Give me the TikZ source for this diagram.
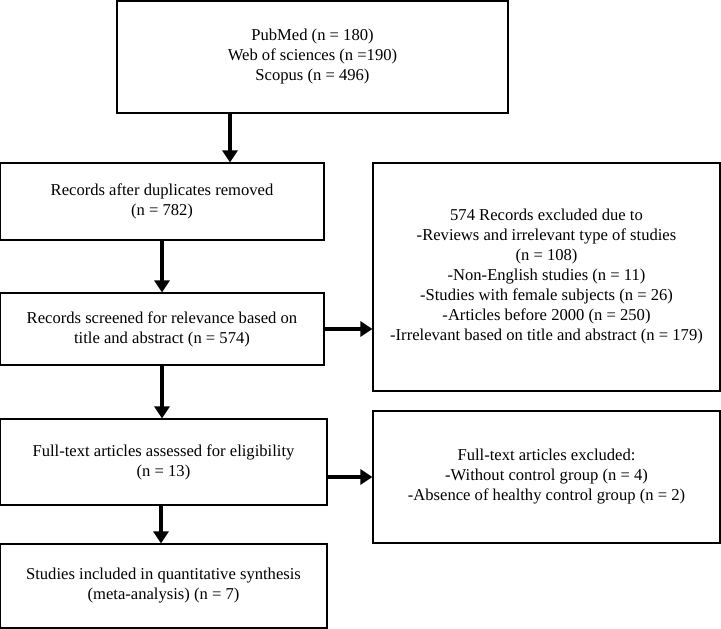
\documentclass[tikz,border=0pt]{standalone}
\usepackage{fontspec}
\setmainfont{Liberation Serif}
\usepackage{tikz}
\usetikzlibrary{arrows.meta}
\usetikzlibrary{calc}

\begin{document}
\begin{tikzpicture}[x=1pt, y=-1pt,
box/.style={draw, line width=1.2pt, align=center, inner sep=0pt, font=\fontsize{16.6}{20}\selectfont},
arr/.style={line width=3.8pt, -{Triangle[length=12pt,width=15pt]}}]
\useasboundingbox (0,0) rectangle (721,629);
\node[box, minimum width=391pt, minimum height=112pt] (src) at (312.5,57) {PubMed (n = 180)\\Web of sciences (n =190)\\Scopus (n = 496)};
\node[box, minimum width=324pt, minimum height=77pt] (dup) at (162,201.5) {Records after duplicates removed\\(n = 782)};
\node[box, minimum width=324pt, minimum height=72pt] (scr) at (162,329) {Records screened for relevance based on\\title and abstract (n = 574)};
\node[box, minimum width=347pt, minimum height=228pt] (exc) at (546.5,277) {574 Records excluded due to\\-Reviews and irrelevant type of studies\\(n = 108)\\-Non-English studies (n = 11)\\-Studies with female subjects (n = 26)\\-Articles before 2000 (n = 250)\\-Irrelevant based on title and abstract (n = 179)};
\node[box, minimum width=327pt, minimum height=86pt] (full) at (163.5,462) {Full-text articles assessed for eligibility\\(n = 13)};
\node[box, minimum width=347pt, minimum height=132pt] (fexc) at (546.5,477) {Full-text articles excluded:\\-Without control group (n = 4)\\-Absence of healthy control group (n = 2)};
\node[box, minimum width=327pt, minimum height=84pt] (inc) at (163.5,586) {Studies included in quantitative synthesis\\(meta-analysis) (n = 7)};
\draw[arr] ([xshift=-82.5pt]src.south) -- ([xshift=-82.5pt]src.south |- dup.north);
\draw[arr] (dup.south) -- (scr.north);
\draw[arr] (scr.east) -- (scr.east -| exc.west);
\draw[arr] (scr.south) -- (scr.south |- full.north);
\draw[arr] (fexc.west -| full.east) -- (fexc.west);
\draw[arr] ([xshift=-2.5pt]full.south) -- ([xshift=-2.5pt]full.south |- inc.north);
\end{tikzpicture}
\end{document}
